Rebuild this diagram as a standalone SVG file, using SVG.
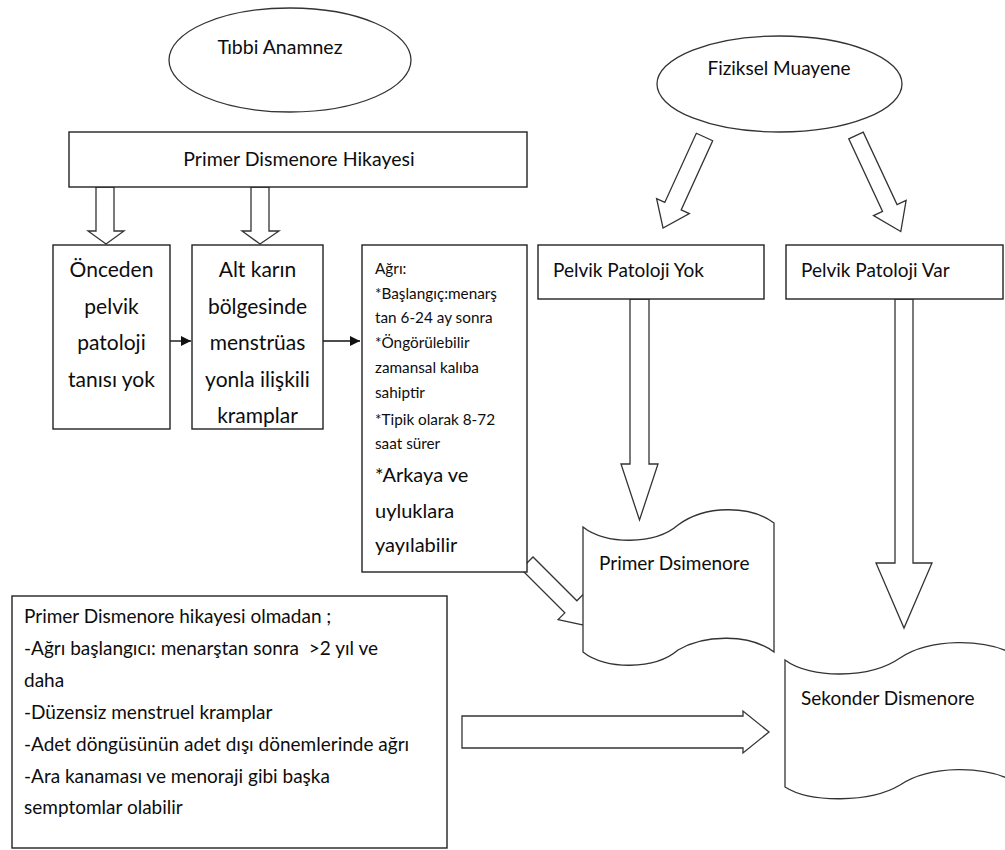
<svg xmlns="http://www.w3.org/2000/svg" width="1005" height="850" viewBox="0 0 1005 850">
<style>
.sh{fill:#fff;stroke:#333;stroke-width:1.3}
.bx{fill:#fff;stroke:#222;stroke-width:1.4}
.t{font-family:Lato,"Liberation Sans",sans-serif;fill:#0d0d0d}
.c{text-anchor:middle}
.ln{stroke:#111;stroke-width:1.4;fill:none}
</style>
<defs>
<marker id="ah" viewBox="0 0 10 10" refX="10" refY="5" markerWidth="10" markerHeight="10" markerUnits="userSpaceOnUse" orient="auto"><path d="M0,0 L10,5 L0,10 Z" fill="#111"/></marker>
<clipPath id="altclip"><rect x="192" y="245" width="131" height="183"/></clipPath>
</defs>
<rect width="1005" height="850" fill="#fff"/>
<g id="connectors">
<polygon class="sh" points="96,187 114,187 114,231 124,231 106,244 88,231 96,231"/>
<polygon class="sh" points="251,187 269,187 269,231 279,231 260,244 242,231 251,231"/>
<line class="ln" x1="170" y1="341" x2="191" y2="341" marker-end="url(#ah)"/>
<line class="ln" x1="323" y1="341" x2="360" y2="341" marker-end="url(#ah)"/>
<polygon class="sh" transform="translate(704.5,137) rotate(24.5)" points="-9,0 9,0 9,76 18,76 0,100 -18,76 -9,76"/>
<polygon class="sh" transform="translate(856,135.5) rotate(-25)" points="-8,0 8,0 8,80 18,80 0,106 -18,80 -8,80"/>
<polygon class="sh" points="630,299 649,299 649,464 658,464 639.5,520 621,464 630,464"/>
<polygon class="sh" points="895,299 913,299 913,563 932,563 904,628 876,563 895,563"/>
<polygon class="sh" transform="translate(527,563) rotate(-45)" points="-8.5,0 8.5,0 8.5,62 18,62 0,90 -18,62 -8.5,62"/>
<polygon class="sh" points="462,716 743,716 743,711 769,732 743,753 743,748 462,748"/>
</g>
<g id="tibbi-anamnez">
<ellipse class="sh" cx="290" cy="60" rx="121" ry="52"/>
<text class="t c" x="280" y="54" font-size="19.5">Tıbbi Anamnez</text>
</g>
<g id="fiziksel-muayene">
<ellipse class="sh" cx="779.5" cy="84" rx="122.5" ry="48"/>
<text class="t c" x="779" y="75" font-size="19">Fiziksel Muayene</text>
</g>
<g id="primer-hikaye">
<rect class="bx" x="69" y="132" width="458" height="55"/>
<text class="t c" x="299" y="166" font-size="19.5">Primer Dismenore Hikayesi</text>
</g>
<g id="onceden">
<rect class="bx" x="53" y="245" width="117" height="184"/>
<text class="t c" font-size="21"><tspan x="111.5" y="277">Önceden</tspan><tspan x="111.5" y="313.5">pelvik</tspan><tspan x="111.5" y="350">patoloji</tspan><tspan x="111.5" y="386.5">tanısı yok</tspan></text>
</g>
<g id="alt-karin">
<rect class="bx" x="192" y="245" width="131" height="184"/>
<text class="t c" font-size="21" clip-path="url(#altclip)"><tspan x="257.5" y="277">Alt karın</tspan><tspan x="257.5" y="313.5">bölgesinde</tspan><tspan x="257.5" y="350">menstrüas</tspan><tspan x="257.5" y="386.5">yonla ilişkili</tspan><tspan x="257.5" y="423">kramplar</tspan></text>
</g>
<g id="agri">
<rect class="bx" x="362" y="245" width="165" height="327"/>
<text class="t" font-size="15.3"><tspan x="375" y="274">Ağrı:</tspan><tspan x="375" y="299">*Başlangıç:menarş</tspan><tspan x="375" y="323">tan 6-24 ay sonra</tspan><tspan x="375" y="348">*Öngörülebilir</tspan><tspan x="375" y="373">zamansal kalıba</tspan><tspan x="375" y="398">sahiptir</tspan><tspan x="375" y="425">*Tipik olarak 8-72</tspan><tspan x="375" y="449">saat sürer</tspan></text>
<text class="t" font-size="20"><tspan x="375" y="482">*Arkaya ve</tspan><tspan x="375" y="518">uyluklara</tspan><tspan x="375" y="552">yayılabilir</tspan></text>
</g>
<g id="pelvik-yok">
<rect class="bx" x="538" y="245" width="226" height="54"/>
<text class="t" x="553" y="277" font-size="19">Pelvik Patoloji Yok</text>
</g>
<g id="pelvik-var">
<rect class="bx" x="786" y="245" width="217" height="54"/>
<text class="t" x="801" y="277" font-size="19">Pelvik Patoloji Var</text>
</g>
<g id="primer-dsimenore">
<path class="sh" d="M583,527 C605,545 655,545 678,525 C705,505 750,505 774,523 L774,652 C750,634 705,634 678,650 C655,670 605,670 583,652 Z"/>
<text class="t" x="599" y="570" font-size="19">Primer Dsimenore</text>
</g>
<g id="sekonder-dismenore">
<path class="sh" d="M785,660 C810,679 870,679 900,658 C930,638 985,638 1015,655 L1015,782 C985,765 930,765 900,785 C870,803 810,803 785,787 Z"/>
<text class="t" x="801" y="705" font-size="19">Sekonder Dismenore</text>
</g>
<g id="sekonder-kriterleri">
<rect class="bx" x="12" y="596" width="435" height="252"/>
<text class="t" font-size="19"><tspan x="24" y="623">Primer Dismenore hikayesi olmadan ;</tspan><tspan x="24" y="655">-Ağrı başlangıcı: menarştan sonra &#160;&gt;2 yıl ve</tspan><tspan x="24" y="687">daha</tspan><tspan x="24" y="719">-Düzensiz menstruel kramplar</tspan><tspan x="24" y="751">-Adet döngüsünün adet dışı dönemlerinde ağrı</tspan><tspan x="24" y="783">-Ara kanaması ve menoraji gibi başka</tspan><tspan x="24" y="814">semptomlar olabilir</tspan></text>
</g>
</svg>
